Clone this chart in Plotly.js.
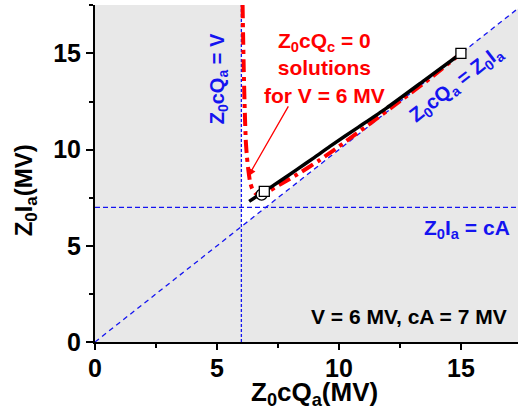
<!DOCTYPE html>
<html>
<head>
<meta charset="utf-8">
<script src="https://cdn.plot.ly/plotly-3.0.1.min.js"></script>
<style>html,body{margin:0;padding:0;background:#fff;}#chart{width:518px;height:410px;}</style>
</head>
<body>
<div id="chart"></div>
<script>
// ---- data ----
var xRange = [0, 17.34];
var yRange = [0, 17.52];
var V = 6;      // MV
var cA = 7;     // MV

// allowed (white) region: Z0cQa > V and Z0Ia > Z0cQa
var allowedX = [6, 6, 17.34, 17.34];
var allowedY = [6, 17.52, 17.52, 17.34];

// reference lines
var vLineX = [6, 6];
var vLineY = [0, 17.52];
var hLineX = [0, 17.34];
var hLineY = [7, 7];
var diagX = [0, 17.34];
var diagY = [0, 17.34];

// Z0cQc = 0 solutions for V = 6 MV (red dash-dot)
var redX = [6.05, 6.07, 6.10, 6.14, 6.18, 6.23, 6.29, 6.36, 6.45, 6.58, 6.72, 6.90, 7.15, 7.6, 8.3, 9.2, 10.2, 11.3, 12.5, 13.7, 14.85];
var redY = [17.52, 16.0, 14.0, 12.0, 10.5, 9.6, 8.9, 8.3, 7.95, 7.72, 7.66, 7.7, 7.86, 8.2, 8.72, 9.45, 10.35, 11.38, 12.52, 13.67, 14.85];

// black solid curve
var blackX = [6.32, 6.94, 7.6, 8.27, 9.0, 9.63, 10.8, 11.95, 13.5, 15.0];
var blackY = [7.31, 7.83, 8.38, 8.96, 9.6, 10.17, 11.17, 12.16, 13.6, 15.0];

// markers
var circleX = [6.83];
var circleY = [7.66];
var squareX = [6.94, 15.0];
var squareY = [7.83, 15.0];

// ticks
var tickVals = [0, 5, 10, 15];
var tickText = ['0', '5', '10', '15'];

// ---- chart ----
var FONT = 'Arial, "Liberation Sans", sans-serif';
var BLUE = '#1414f0';

var traces = [
  {x: allowedX, y: allowedY, mode: 'lines', fill: 'toself', fillcolor: '#ffffff',
   line: {width: 0, color: 'rgba(0,0,0,0)'}, hoverinfo: 'skip'},
  {x: diagX, y: diagY, mode: 'lines', line: {color: BLUE, width: 1.3, dash: '5px,4px'}},
  {x: hLineX, y: hLineY, mode: 'lines', line: {color: BLUE, width: 1.3, dash: '5px,3px'}},
  {x: vLineX, y: vLineY, mode: 'lines', line: {color: BLUE, width: 1.3, dash: '3px,2px'}},
  {x: redX, y: redY, mode: 'lines', line: {color: '#ff0000', width: 4, dash: '13px,5px,4px,5px', shape: 'spline', smoothing: 0.6}},
  {x: blackX, y: blackY, mode: 'lines', line: {color: '#000000', width: 3.5, shape: 'spline', smoothing: 0.6}},
  {x: circleX, y: circleY, mode: 'markers', marker: {symbol: 'circle', size: 11, color: '#ffffff', line: {color: '#000000', width: 1.3}}},
  {x: squareX, y: squareY, mode: 'markers', marker: {symbol: 'square', size: 10, color: '#ffffff', line: {color: '#000000', width: 1.3}}}
];

var axisCommon = {
  showgrid: false, zeroline: false, showline: true, linecolor: '#000', linewidth: 2,
  ticks: 'outside', ticklen: 7, tickwidth: 2, tickcolor: '#000',
  tickmode: 'array', tickvals: tickVals, ticktext: tickText,
  tickfont: {family: FONT, size: 25, color: '#000', weight: 'bold'},
  minor: {tickmode: 'linear', tick0: 2.5, dtick: 5, ticks: 'outside', ticklen: 4, tickwidth: 2, tickcolor: '#000'},
  fixedrange: true
};

var layout = {
  width: 518, height: 410,
  margin: {l: 95, r: 0, t: 5, b: 68, pad: 0},
  paper_bgcolor: '#ffffff',
  plot_bgcolor: '#e8e8e8',
  showlegend: false,
  xaxis: Object.assign({}, axisCommon, {range: xRange, ticklen: 6, ticklabelstandoff: -3}),
  yaxis: Object.assign({}, axisCommon, {range: yRange}),
  annotations: [
    {xref: 'paper', yref: 'paper', x: 0.518, y: -0.1526, xanchor: 'center', yanchor: 'middle', showarrow: false,
     text: 'Z<sub>0</sub>cQ<sub>a</sub>(MV)', font: {family: FONT, size: 26, color: '#000', weight: 'bold'}},
    {xref: 'paper', yref: 'paper', x: -0.1655, y: 0.45, xanchor: 'center', yanchor: 'middle', showarrow: false, textangle: -90,
     text: 'Z<sub>0</sub>I<sub>a</sub>(MV)', font: {family: FONT, size: 24, color: '#000', weight: 'bold'}},
    {x: 9.40, y: 14.26, xanchor: 'center', yanchor: 'middle', showarrow: false, align: 'center',
     text: 'Z<sub>0</sub>cQ<sub>c</sub> = 0<br>solutions<br>for V = 6 MV', font: {family: FONT, size: 21, color: '#ff0000', weight: 'bold'}},
    {x: 6.28, y: 8.61, ax: 7.96, ay: 12.33, axref: 'x', ayref: 'y', text: '', showarrow: true,
     arrowhead: 2, arrowsize: 1.2, arrowwidth: 1.3, arrowcolor: '#ff0000'},
    {x: 5.06, y: 13.68, xanchor: 'center', yanchor: 'middle', showarrow: false, textangle: -90,
     text: 'Z<sub>0</sub>cQ<sub>a</sub> = V', font: {family: FONT, size: 20, color: BLUE, weight: 'bold'}},
    {x: 14.82, y: 13.38, xanchor: 'center', yanchor: 'middle', showarrow: false, textangle: -38,
     text: 'Z<sub>0</sub>cQ<sub>a</sub> = Z<sub>0</sub>I<sub>a</sub>', font: {family: FONT, size: 20, color: BLUE, weight: 'bold'}},
    {x: 17.08, y: 5.85, xanchor: 'right', yanchor: 'middle', showarrow: false,
     text: 'Z<sub>0</sub>I<sub>a</sub> = cA', font: {family: FONT, size: 21, color: BLUE, weight: 'bold'}},
    {x: 16.99, y: 1.33, xanchor: 'right', yanchor: 'middle', showarrow: false,
     text: 'V = ' + V + ' MV, cA = ' + cA + ' MV', font: {family: FONT, size: 21, color: '#000', weight: 'bold'}}
  ]
};

Plotly.newPlot('chart', traces, layout, {staticPlot: true, displayModeBar: false});
</script>
</body>
</html>
